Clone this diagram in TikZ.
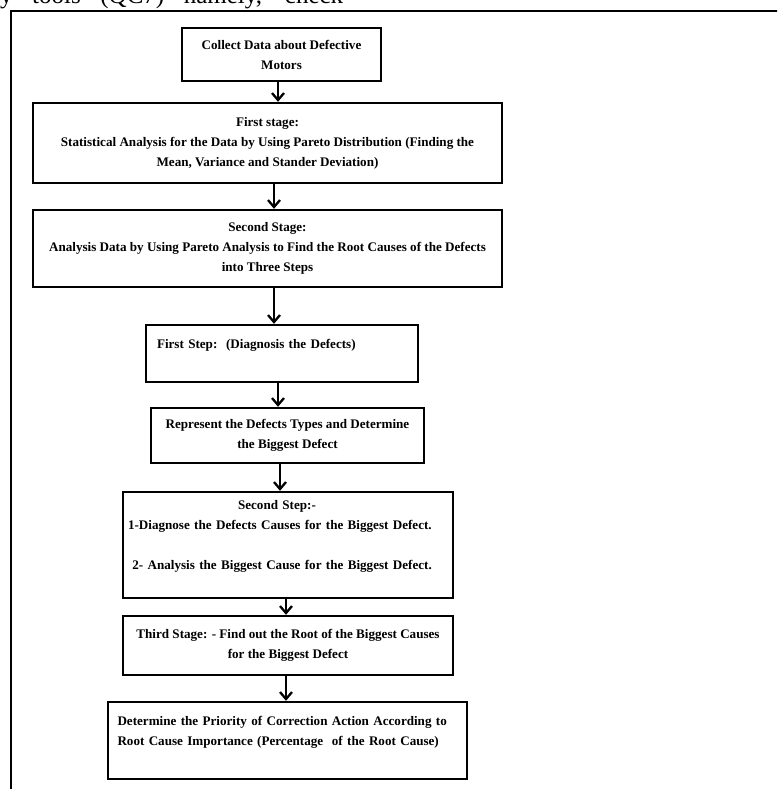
\documentclass[tikz,border=0pt]{standalone}
\usepackage{fontspec}
\setmainfont{Liberation Serif}
\usepackage{tikz}
\usetikzlibrary{arrows.meta}
\newcommand{\stagefont}{\fontsize{13.1}{20}\selectfont\bfseries}
\tikzset{stagebox/.style={draw,line width=2.4pt,inner sep=0pt,font=\stagefont,align=center}}
\tikzset{flowarrow/.style={line width=2.3pt,-{Straight Barb[length=7pt,width=12pt]}}}

\begin{document}
\begin{tikzpicture}[x=1pt,y=-1pt]
	\useasboundingbox (0,0) rectangle (777,789);
	\begin{scope}
	\clip (0,0) rectangle (777,789);
	\node[anchor=base west,inner sep=0pt,font=\fontsize{25}{25}\selectfont] (qctext) at (0,4) {\makebox[343pt][s]{y tools (QC7) namely, check}};
	\draw[line width=1.8pt] (790,11) -| (11,800);
	\end{scope}
	%
	\node[stagebox,minimum width=199pt,minimum height=53pt] (B1) at (281.5,54.5) {Collect Data about Defective\\Motors};
	\node[stagebox,minimum width=469pt,minimum height=80pt] (B2) at (267.5,143) {First stage:\\Statistical Analysis for the Data by Using Pareto Distribution (Finding the\\Mean, Variance and Stander Deviation)};
	\node[stagebox,minimum width=469pt,minimum height=77pt] (B3) at (267.5,248.5) {Second Stage:\\Analysis Data by Using Pareto Analysis to Find the Root Causes of the Defects\\into Three Steps};
	\node[stagebox,minimum width=272pt,minimum height=57pt,text width=250pt,inner xsep=11pt,align=left] (B4) at (282,353.5) {First Step:\ \ (Diagnosis the Defects)\\\mbox{}};
	\node[stagebox,minimum width=273pt,minimum height=55pt] (B5) at (287.5,435.5) {Represent\ the Defects Types and Determine\\the Biggest Defect};
	\node[stagebox,minimum width=330pt,minimum height=106pt,text width=320pt,inner xsep=5pt,align=left] (B6) at (288,545) {\makebox[298pt]{Second Step:-}\\1-Diagnose the Defects Causes for the Biggest Defect.\\[20pt]\ 2- Analysis the Biggest Cause for the Biggest Defect.\\\mbox{}};
	\node[stagebox,minimum width=330pt,minimum height=59pt] (B7) at (288,645.5) {Third Stage: - Find out the Root of the Biggest Causes\\for the Biggest Defect};
	\node[stagebox,minimum width=359pt,minimum height=77pt,text width=340pt,inner xsep=9.5pt,align=left] (B8) at (287.5,740.5) {\makebox[340pt][s]{Determine the Priority of Correction Action According to}\\Root Cause Importance (Percentage\ \ of the Root Cause)\\\mbox{}};
	%
	\draw[flowarrow] ([xshift=-3.5pt]B1.south) -- ([xshift=-3.5pt]B1.south |- B2.north);
	\draw[flowarrow] ([xshift=6.5pt]B2.south) -- ([xshift=6.5pt]B2.south |- B3.north);
	\draw[flowarrow] ([xshift=6.5pt]B3.south) -- ([xshift=6.5pt]B3.south |- B4.north);
	\draw[flowarrow] ([xshift=-4pt]B4.south) -- ([xshift=-4pt]B4.south |- B5.north);
	\draw[flowarrow] ([xshift=-7.5pt]B5.south) -- ([xshift=-7.5pt]B5.south |- B6.north);
	\draw[flowarrow] ([xshift=-2pt]B6.south) -- ([xshift=-2pt]B6.south |- B7.north);
	\draw[flowarrow] ([xshift=-2pt]B7.south) -- ([xshift=-2pt]B7.south |- B8.north);
\end{tikzpicture}
\end{document}
